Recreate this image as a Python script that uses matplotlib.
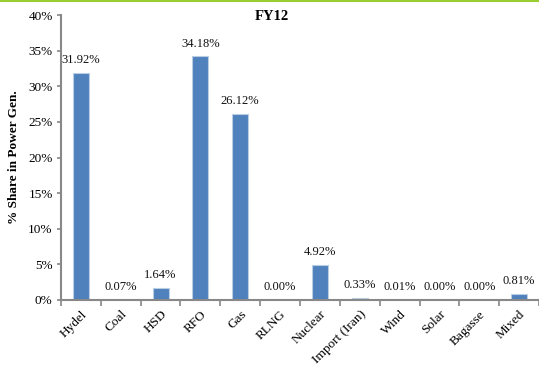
import matplotlib
matplotlib.use('Agg')
import matplotlib.pyplot as plt
from matplotlib.lines import Line2D
import numpy as np

plt.rcParams['font.family'] = ['Liberation Serif', 'DejaVu Serif']

# FY12 share of power generation by source (%)
sources = ['Hydel', 'Coal', 'HSD', 'RFO', 'Gas', 'RLNG', 'Nuclear',
           'Import (Iran)', 'Wind', 'Solar', 'Bagasse', 'Mixed']
shares = [31.92, 0.07, 1.64, 34.18, 26.12, 0.00, 4.92, 0.33, 0.01, 0.00, 0.00, 0.81]
yticks = [0, 5, 10, 15, 20, 25, 30, 35, 40]

fig = plt.figure(figsize=(5.39, 3.69), dpi=100)
ax = fig.add_axes([61 / 539, 69 / 369, 1 - 61 / 539, (300 - 15) / 369])

x = np.arange(len(sources))
bars = ax.bar(x, shares, width=0.4, color='#4F81BD', edgecolor='#B9CDE5', linewidth=0.8, zorder=2)

for b, v in zip(bars, shares):
    ax.annotate(f'{v:.2f}%', (b.get_x() + b.get_width() / 2, v),
                textcoords='offset points', xytext=(0, 5),
                ha='center', va='bottom', fontsize=9, color='#111111')

ax.set_ylim(0, 40)
ax.set_xlim(-0.5, -0.5 + 478 / 40)
ax.set_yticks(yticks)
ax.set_yticklabels([f'{t}%' for t in yticks], fontsize=9.5)
ax.tick_params(axis='y', length=3, color='#888888', width=1.2, pad=3)

ax.set_xticks(x)
ax.set_xticklabels(sources, rotation=45, ha='right', rotation_mode='anchor', fontsize=9.5)
ax.tick_params(axis='x', which='major', length=0, pad=6)
ax.set_xticks(np.arange(-0.5, len(sources), 1), minor=True)
ax.tick_params(axis='x', which='minor', length=4, color='#888888', width=1.2)

for s in ['top', 'right']:
    ax.spines[s].set_visible(False)
for s in ['left', 'bottom']:
    ax.spines[s].set_color('#888888')
    ax.spines[s].set_linewidth(1.5)

ax.set_ylabel('% Share in Power Gen.', fontsize=9.5, fontweight='bold', labelpad=6)
fig.text(272 / 539, 1 - 17 / 369, 'FY12', ha='center', va='center', fontsize=10.5, fontweight='bold')

# green rule along the top edge
fig.add_artist(Line2D([0, 1], [1 - 1 / 369, 1 - 1 / 369], transform=fig.transFigure,
                      color='#9ACD32', linewidth=1.5))

fig.savefig('out.png', dpi=100)
